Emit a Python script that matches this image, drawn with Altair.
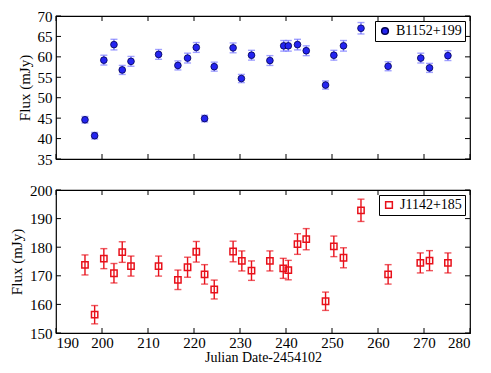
import altair as alt
import pandas as pd

# ---- data ----
jd_top = [196.3, 198.4, 200.4, 202.6, 204.4, 206.3, 212.3, 216.5, 218.6, 220.5,
          222.3, 224.4, 228.5, 230.3, 232.5, 236.5, 239.5, 240.5, 242.5, 244.4,
          248.6, 250.4, 252.5, 256.3, 262.2, 269.3, 271.2, 275.2]
flux_top = [44.6, 40.7, 59.2, 63.0, 56.8, 58.9, 60.6, 57.9, 59.7, 62.3,
            44.9, 57.6, 62.2, 54.7, 60.4, 59.1, 62.7, 62.7, 63.0, 61.5,
            53.1, 60.4, 62.7, 67.0, 57.7, 59.7, 57.3, 60.3]
err_top = [0.8, 0.8, 1.2, 1.3, 1.1, 1.2, 1.2, 1.1, 1.2, 1.2,
           0.8, 1.1, 1.2, 1.0, 1.2, 1.2, 1.3, 1.3, 1.3, 1.2,
           1.0, 1.2, 1.3, 1.4, 1.1, 1.2, 1.1, 1.2]

jd_bot = [196.3, 198.4, 200.4, 202.6, 204.4, 206.3, 212.3, 216.5, 218.6, 220.5,
          222.3, 224.4, 228.5, 230.4, 232.5, 236.5, 239.4, 240.5, 242.5, 244.4,
          248.6, 250.4, 252.5, 256.3, 262.2, 269.2, 271.2, 275.2]
flux_bot = [173.8, 156.4, 176.0, 170.9, 178.3, 173.4, 173.4, 168.6, 173.0, 178.4,
            170.5, 165.2, 178.5, 175.2, 171.8, 175.2, 172.6, 172.0, 181.1, 182.8,
            161.1, 180.3, 176.3, 192.9, 170.5, 174.5, 175.3, 174.5]
err_bot = [3.5, 3.2, 3.5, 3.4, 3.6, 3.5, 3.5, 3.4, 3.5, 3.6,
           3.4, 3.3, 3.6, 3.5, 3.4, 3.5, 3.5, 3.4, 3.6, 3.7,
           3.2, 3.6, 3.5, 3.9, 3.4, 3.5, 3.5, 3.5]

x_ticks = [190, 200, 210, 220, 230, 240, 250, 260, 270, 280]
y_ticks_top = [35, 40, 45, 50, 55, 60, 65, 70]
y_ticks_bot = [150, 160, 170, 180, 190, 200]

FONT = "Liberation Serif"
W, H = 414, 143
TL = 5  # inward tick length


def panel(jd, flux, err, name, color, bar_color, shape, filled, ydom, yticks, show_x):
    df = pd.DataFrame({"jd": jd, "flux": flux, "err": err})
    df["lo"] = df["flux"] - df["err"]
    df["hi"] = df["flux"] + df["err"]
    df["series"] = name

    xscale = alt.Scale(domain=[190, 280], nice=False, zero=False, padding=0)
    yscale = alt.Scale(domain=ydom, nice=False, zero=False, padding=0)

    xaxis = alt.Axis(values=x_ticks, labels=show_x, labelOverlap=False,
                     title="Julian Date-2454102" if show_x else None,
                     labelPadding=2 if show_x else 0)
    yaxis = alt.Axis(values=yticks, labelOverlap=False, title="Flux (mJy)")

    X = lambda f: alt.X(f, scale=xscale, axis=xaxis)
    Y = lambda f: alt.Y(f, scale=yscale, axis=yaxis)

    base = alt.Chart(df)
    bars = base.mark_rule(color=bar_color, strokeWidth=1.4).encode(
        x=X("jd:Q"), y=Y("lo:Q"), y2="hi:Q")
    cap_lo = base.mark_tick(color=bar_color, orient="horizontal", size=7, thickness=1.4).encode(
        x=X("jd:Q"), y=Y("lo:Q"))
    cap_hi = base.mark_tick(color=bar_color, orient="horizontal", size=7, thickness=1.4).encode(
        x=X("jd:Q"), y=Y("hi:Q"))
    if filled:
        pts = base.mark_point(filled=True, size=45, stroke="#000050", strokeWidth=0.8,
                              fillOpacity=1, opacity=1)
    else:
        pts = base.mark_point(filled=False, size=40, strokeWidth=1.5, opacity=1)
    leg = alt.Legend(title=None, orient="top-right", offset=5)
    pts = pts.encode(
        x=X("jd:Q"), y=Y("flux:Q"),
        color=alt.Color("series:N", scale=alt.Scale(domain=[name], range=[color]), legend=leg),
        shape=alt.Shape("series:N", scale=alt.Scale(domain=[name], range=[shape]), legend=leg))

    xt = alt.Chart(pd.DataFrame({"v": x_ticks}))
    yt = alt.Chart(pd.DataFrame({"v": yticks}))
    tk = dict(color="black", strokeWidth=1)
    xt_bot = xt.mark_rule(**tk).encode(x=X("v:Q"), y=alt.value(H), y2=alt.value(H - TL))
    xt_top = xt.mark_rule(**tk).encode(x=X("v:Q"), y=alt.value(0), y2=alt.value(TL))
    yt_l = yt.mark_rule(**tk).encode(y=Y("v:Q"), x=alt.value(0), x2=alt.value(TL))
    yt_r = yt.mark_rule(**tk).encode(y=Y("v:Q"), x=alt.value(W), x2=alt.value(W - TL))

    return alt.layer(bars, cap_lo, cap_hi, pts, xt_bot, xt_top, yt_l, yt_r).properties(
        width=W, height=H)


top = panel(jd_top, flux_top, err_top, "B1152+199", "#2424f0", "#7a7aff", "circle", True,
            [35, 70], y_ticks_top, False)
bot = panel(jd_bot, flux_bot, err_bot, "J1142+185", "#e8101a", "#e8101a", "square", False,
            [150, 200], y_ticks_bot, True)

chart = alt.vconcat(top, bot, spacing=14).resolve_scale(
    color="independent", shape="independent", x="independent", y="independent"
).properties(
    background="white", padding={"top": 0, "bottom": 0, "left": 0, "right": 0}
).configure_view(
    stroke="black", strokeWidth=1.2
).configure_axis(
    ticks=False, domain=False, grid=False,
    labelFont=FONT, labelFontSize=15, labelColor="black", labelPadding=4,
    titleFont=FONT, titleFontSize=15, titleFontWeight="normal", titleColor="black"
).configure_axisX(titlePadding=0, titleFontSize=14
).configure_axisY(titlePadding=5
).configure_legend(
    strokeColor="black", fillColor="white",
    padding=3, labelFont=FONT, labelFontSize=14, labelColor="black",
    symbolSize=45, cornerRadius=0, labelLimit=200, symbolStrokeWidth=1.5
)

chart.save("out.html", embed_options={"renderer": "svg", "actions": False})
